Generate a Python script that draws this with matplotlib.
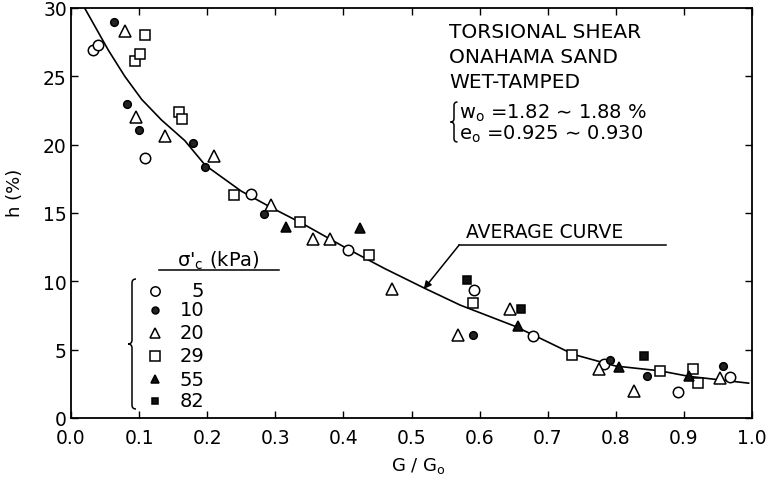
import matplotlib
matplotlib.use("Agg")
import matplotlib.pyplot as plt
import matplotlib.transforms as mtransforms
from matplotlib.path import Path
from matplotlib.patches import PathPatch

s5_x = [0.033, 0.040, 0.108, 0.265, 0.407, 0.592, 0.679, 0.782, 0.892, 0.968]
s5_h = [26.9, 27.3, 19.0, 16.4, 12.3, 9.35, 6.0, 3.95, 1.9, 3.0]
s10_x = [0.0625, 0.082, 0.100, 0.179, 0.197, 0.284, 0.590, 0.792, 0.846, 0.957]
s10_h = [29.0, 23.0, 21.1, 20.1, 18.4, 14.9, 6.05, 4.25, 3.1, 3.8]
s20_x = [0.079, 0.096, 0.138, 0.210, 0.294, 0.355, 0.381, 0.472, 0.568, 0.645,
         0.776, 0.826, 0.953]
s20_h = [28.3, 22.0, 20.6, 19.2, 15.6, 13.1, 13.1, 9.45, 6.05, 8.0,
         3.6, 1.95, 2.9]
s29_x = [0.094, 0.101, 0.109, 0.158, 0.1625, 0.240, 0.336, 0.437, 0.591, 0.736,
         0.865, 0.914, 0.921]
s29_h = [26.1, 26.6, 28.0, 22.4, 21.9, 16.3, 14.35, 11.9, 8.4, 4.6,
         3.45, 3.6, 2.55]
s55_x = [0.315, 0.424, 0.656, 0.804, 0.907]
s55_h = [14.0, 13.9, 6.7, 3.7, 3.05]
s82_x = [0.581, 0.661, 0.842]
s82_h = [10.1, 8.0, 4.55]

# average curve
curve_x = [0.020, 0.055, 0.079, 0.104, 0.133, 0.167, 0.197, 0.250, 0.294, 0.339,
           0.407, 0.460, 0.519, 0.572, 0.650, 0.680, 0.738, 0.800, 0.865, 0.907, 0.995]
curve_h = [30.0, 26.9, 25.0, 23.3, 21.8, 20.3, 18.5, 16.6, 15.4, 14.25,
           12.35, 10.95, 9.5, 8.25, 6.75, 6.05, 4.65, 3.8, 3.45, 3.05, 2.55]

legend_labels = ["5", "10", "20", "29", "55", "82"]
xticks = [0.0, 0.1, 0.2, 0.3, 0.4, 0.5, 0.6, 0.7, 0.8, 0.9, 1.0]
yticks = [0, 5, 10, 15, 20, 25, 30]

W, H = 769, 485
fig = plt.figure(figsize=(W / 100, H / 100), dpi=100)
ax = fig.add_axes([71 / W, 1 - 419 / H, 681 / W, 410 / H])

# pixel coords (origin top-left) -> figure
pix = mtransforms.Affine2D().scale(1 / W, -1 / H).translate(0, 1) + fig.transFigure

ax.plot(curve_x, curve_h, color="k", lw=1.2, zorder=2)

styles = [
    (s5_x, s5_h, "o", "white", 7.5),
    (s10_x, s10_h, "o", "#222222", 5.5),
    (s20_x, s20_h, "^", "white", 8.5),
    (s29_x, s29_h, "s", "white", 7.5),
    (s55_x, s55_h, "^", "#111111", 6.5),
    (s82_x, s82_h, "s", "#111111", 5.5),
]
for xs, hs, m, fc, ms in styles:
    ax.plot(xs, hs, ls="none", marker=m, mfc=fc, mec="k", mew=1.1, ms=ms, zorder=3)

ax.set_xlim(0, 1.0)
ax.set_ylim(0, 30)
ax.set_xticks(xticks)
ax.set_xticklabels(["%.1f" % t for t in xticks])
ax.set_yticks(yticks)
ax.tick_params(direction="in", length=5, width=1, top=True, right=True,
               labelsize=13.5, pad=7)
ax.tick_params(axis="y", pad=3)
for sp in ax.spines.values():
    sp.set_linewidth(1.3)

fig.text(418 / W, 1 - 466 / H, "G / G$_\\mathregular{o}$", fontsize=13,
         ha="center", va="center")
fig.text(15 / W, 1 - 193 / H, "h (%)", fontsize=13, rotation=90,
         ha="center", va="center")

# annotation block, top right
for i, line in enumerate(["TORSIONAL SHEAR", "ONAHAMA SAND", "WET-TAMPED"]):
    fig.text(449 / W, 1 - (33 + 24.5 * i) / H, line, fontsize=14.5,
             ha="left", va="center")
fig.text(459 / W, 1 - 113 / H, "w$_\\mathregular{o}$ =1.82 \u223c 1.88 %",
         fontsize=14, ha="left", va="center")
fig.text(459 / W, 1 - 134 / H, "e$_\\mathregular{o}$ =0.925 \u223c 0.930",
         fontsize=14, ha="left", va="center")


def brace(x, y0, y1, w):
    ym = (y0 + y1) / 2
    verts = [(x + w, y0), (x, y0), (x, y0 + w), (x, ym - w), (x, ym), (x - w, ym),
             (x, ym), (x, ym + w), (x, y1 - w), (x, y1), (x + w, y1)]
    codes = [Path.MOVETO, Path.CURVE3, Path.CURVE3, Path.LINETO, Path.CURVE3,
             Path.CURVE3, Path.CURVE3, Path.CURVE3, Path.LINETO, Path.CURVE3,
             Path.CURVE3]
    fig.add_artist(PathPatch(Path(verts, codes), transform=pix, fill=False,
                             lw=1.1, color="k"))


brace(454, 103, 143, 3.5)
brace(132, 280, 410, 4)

# average curve label with leader
ax.text(0.580, 12.95, "AVERAGE CURVE", fontsize=13.5, ha="left", va="bottom")
ax.plot([0.570, 0.874], [12.66, 12.66], color="k", lw=1.1)
ax.annotate("", xy=(0.518, 9.44), xytext=(0.570, 12.66),
            arrowprops=dict(arrowstyle="-|>", color="k", lw=1.1,
                            mutation_scale=11, shrinkA=0, shrinkB=0))

# hand-drawn legend
ax.text(0.217, 11.55, "\u03c3$'_\\mathregular{c}$ (kPa)", fontsize=14,
        ha="center", va="center")
ax.plot([0.129, 0.305], [10.83, 10.83], color="k", lw=1.1)
row_h = [9.31, 7.92, 6.22, 4.56, 2.85, 1.27]
for (xs, hs, m, fc, ms), lab, rh in zip(styles, legend_labels, row_h):
    ax.plot([0.123], [rh], ls="none", marker=m, mfc=fc, mec="k", mew=1.1,
            ms=ms * 0.9)
    ax.text(0.196, rh, lab, fontsize=14, ha="right", va="center")

fig.savefig("out.png", dpi=100, facecolor="white")
